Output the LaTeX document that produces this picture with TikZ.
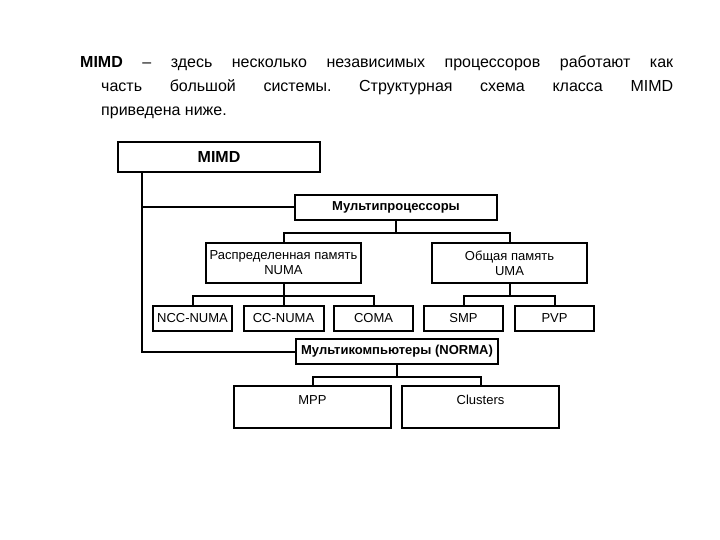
\documentclass[tikz,border=0pt]{standalone}
\usepackage{fontspec}
\setmainfont{Liberation Sans}
\usetikzlibrary{calc}
\frenchspacing
\tikzset{
  classBox/.style={draw, line width=2pt, inner sep=0pt, font=\fontsize{13}{15}\selectfont, align=center},
  % caixa com texto em negrito
  boldBox/.style={classBox, font=\fontsize{13}{15}\selectfont\bfseries},
  leafBox/.style={classBox, minimum width=79pt, minimum height=25pt},
  treeLine/.style={line width=2pt}
}

\begin{document}
\begin{tikzpicture}[x=1pt, y=-1pt]
  \useasboundingbox (0,0) rectangle (720,540);

  %% --- TEXTO ---
  \begin{scope}[font=\fontsize{16}{24}\selectfont]
    \node[anchor=base west, inner sep=0pt] (line1) at (80,68)
      {\makebox[593pt][s]{\textbf{MIMD} – здесь несколько независимых процессоров работают как}};
    \node[anchor=base west, inner sep=0pt] (line2) at (101,92)
      {\makebox[572pt][s]{часть большой системы. Структурная схема класса MIMD}};
    \node[anchor=base west, inner sep=0pt] (line3) at (101,116) {приведена ниже.};
  \end{scope}

  %% --- CAIXAS ---
  \node[boldBox, font=\fontsize{16}{18}\selectfont\bfseries, minimum width=202pt, minimum height=30pt] (mimd) at (219,157) {MIMD};
  \node[boldBox, minimum width=202pt, minimum height=25pt] (multiProc) at (396,207.5) {Мультипроцессоры};

  \node[classBox, minimum width=155pt, minimum height=40pt] (numa) at (283.5,263) {Распределенная память\\NUMA};
  \node[classBox, minimum width=155pt, minimum height=40pt] (uma) at (509.5,263) {Общая память\\UMA};

  \node[leafBox] (nccNuma) at (192.5,318.5) {NCC-NUMA};
  \node[leafBox, minimum width=80pt] (ccNuma) at (283.5,318.5) {CC-NUMA};
  \node[leafBox] (coma) at (373.5,318.5) {COMA};
  \node[leafBox] (smp) at (463.5,318.5) {SMP};
  \node[leafBox] (pvp) at (554.5,318.5) {PVP};

  \node[boldBox, minimum width=202pt, minimum height=25pt] (multiComp) at (397,351.5) {Мультикомпьютеры (NORMA)};

  % caixas grandes com texto no alto
  \node[classBox, minimum width=157pt, inner ysep=3pt, text height=15pt, text depth=21pt] (mpp) at (312.5,407) {MPP};
  \node[classBox, minimum width=157pt, inner ysep=3pt, text height=15pt, text depth=21pt] (clusters) at (480.5,407) {Clusters};

  %% --- LIGAÇÕES ---
  \coordinate (trunk) at ($(mimd.south west)+(25,0)$);
  \draw[treeLine] (trunk) |- (multiComp.west);
  \draw[treeLine] (trunk |- multiProc.west) -- (multiProc.west);

  \draw[treeLine] (numa.north) |- ($(multiProc.south)+(0,12)$) -| (uma.north);
  \draw[treeLine] (multiProc.south) -- ++(0,12);

  \draw[treeLine] (nccNuma.north) |- ($(numa.south)+(0,12)$) -| (coma.north);
  \draw[treeLine] (numa.south) -- (ccNuma.north);

  \draw[treeLine] (smp.north) |- ($(uma.south)+(0,12)$) -| (pvp.north);
  \draw[treeLine] (uma.south) -- ++(0,12);

  \draw[treeLine] (mpp.north) |- ($(multiComp.south)+(0,12)$) -| (clusters.north);
  \draw[treeLine] (multiComp.south) -- ++(0,12);

\end{tikzpicture}
\end{document}
